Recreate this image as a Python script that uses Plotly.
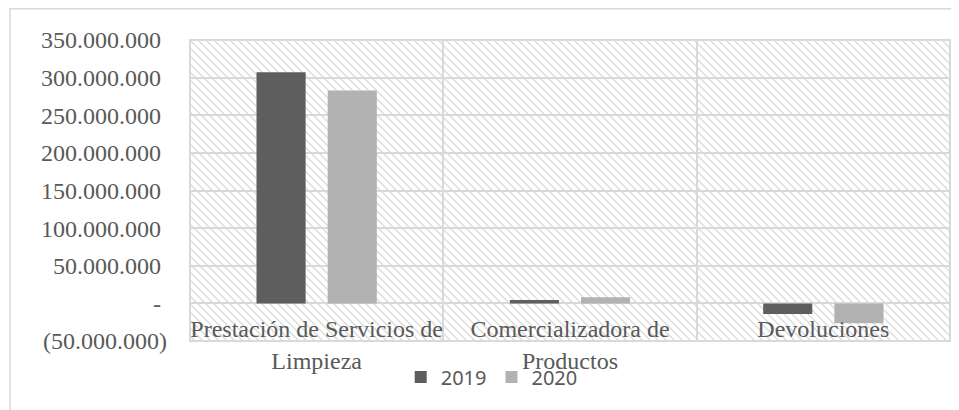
import base64
import plotly.graph_objects as go

categories = ["Prestación de Servicios de<br>Limpieza", "Comercializadora de<br>Productos", "Devoluciones"]
series_names = ["2019", "2020"]
values_2019 = [307_000_000, 4_600_000, -14_000_000]
values_2020 = [283_000_000, 8_300_000, -26_500_000]
y_tickvals = [-50_000_000, 0, 50_000_000, 100_000_000, 150_000_000, 200_000_000, 250_000_000, 300_000_000, 350_000_000]


def fmt(v):
    if v == 0:
        return "-\u00a0"
    s = f"{abs(v):,.0f}".replace(",", ".")
    return f"({s})" if v < 0 else s + "\u00a0"


y_ticktext = [fmt(v) for v in y_tickvals]

TXT = "#595959"
GRID = "#d9d9d9"

# figure is placed at an 8px page offset by the browser body margin
FIG_W, FIG_H = 951, 402
L, R, T, B = 182, 9, 32, 69
PW, PH = FIG_W - L - R, FIG_H - T - B

svg = (
    f'<svg xmlns="http://www.w3.org/2000/svg" width="{PW}" height="{PH}">'
    '<defs><pattern id="p" width="8" height="8" patternUnits="userSpaceOnUse">'
    '<path d="M-2,6 L2,10 M0,0 L8,8 M6,-2 L10,2" stroke="#dcdcdc" stroke-width="1.4"/>'
    '</pattern></defs>'
    f'<rect width="{PW}" height="{PH}" fill="white"/>'
    f'<rect width="{PW}" height="{PH}" fill="url(#p)"/></svg>'
)
bg_src = "data:image/svg+xml;base64," + base64.b64encode(svg.encode()).decode()

fig = go.Figure()
fig.add_trace(go.Bar(name=series_names[0], x=categories, y=values_2019, marker=dict(color="#5e5e5e", line=dict(width=0))))
fig.add_trace(go.Bar(name=series_names[1], x=categories, y=values_2020, marker=dict(color="#b2b2b2", line=dict(width=0))))

ymin, ymax = -50_000_000, 350_000_000
zero_pos = (0 - ymin) / (ymax - ymin)

fig.update_layout(
    width=FIG_W, height=FIG_H,
    margin=dict(l=L, r=R, t=T, b=B, autoexpand=False),
    paper_bgcolor="white",
    plot_bgcolor="white",
    barmode="group",
    bargap=0.438,
    bargroupgap=0.31,
    font=dict(family="Liberation Serif", size=24, color=TXT),
    showlegend=True,
    legend=dict(
        orientation="h", x=0.397, xanchor="center", y=(T + PH - (377 - 8)) / PH, yanchor="middle",
        font=dict(family="Noto Sans", size=20, color=TXT),
        bgcolor="rgba(0,0,0,0)", itemwidth=30, traceorder="normal",
    ),
    xaxis=dict(
        type="category", tickson="boundaries", showgrid=True, gridcolor=GRID, gridwidth=1.5,
        anchor="free", position=zero_pos, showline=False, ticks="", zeroline=False,
        tickfont=dict(family="Liberation Serif", size=24, color=TXT),
        ticklabelstandoff=9, tickangle=0, automargin=False,
    ),
    yaxis=dict(
        range=[ymin, ymax], tickvals=y_tickvals, ticktext=y_ticktext,
        showgrid=True, gridcolor=GRID, gridwidth=1.5, zeroline=False,
        showline=False, ticks="", ticklabelstandoff=22, automargin=False,
        tickfont=dict(family="Liberation Serif", size=24, color=TXT),
    ),
    images=[dict(source=bg_src, xref="paper", yref="paper", x=0, y=1, sizex=1, sizey=1,
                 xanchor="left", yanchor="top", sizing="stretch", layer="below")],
    shapes=[
        dict(type="rect", xref="paper", yref="paper", x0=0, x1=1, y0=0, y1=1,
             line=dict(color=GRID, width=2), fillcolor="rgba(0,0,0,0)", layer="above"),
        dict(type="rect", xref="paper", yref="paper",
             x0=(2 - L) / PW, x1=(FIG_W + 20 - L) / PW,
             y0=-(FIG_H + 20 - T - PH) / PH, y1=1 + (T - 0.75) / PH,
             line=dict(color=GRID, width=1.5), fillcolor="rgba(0,0,0,0)", layer="above"),
    ],
)

fig.write_html("out.html")
